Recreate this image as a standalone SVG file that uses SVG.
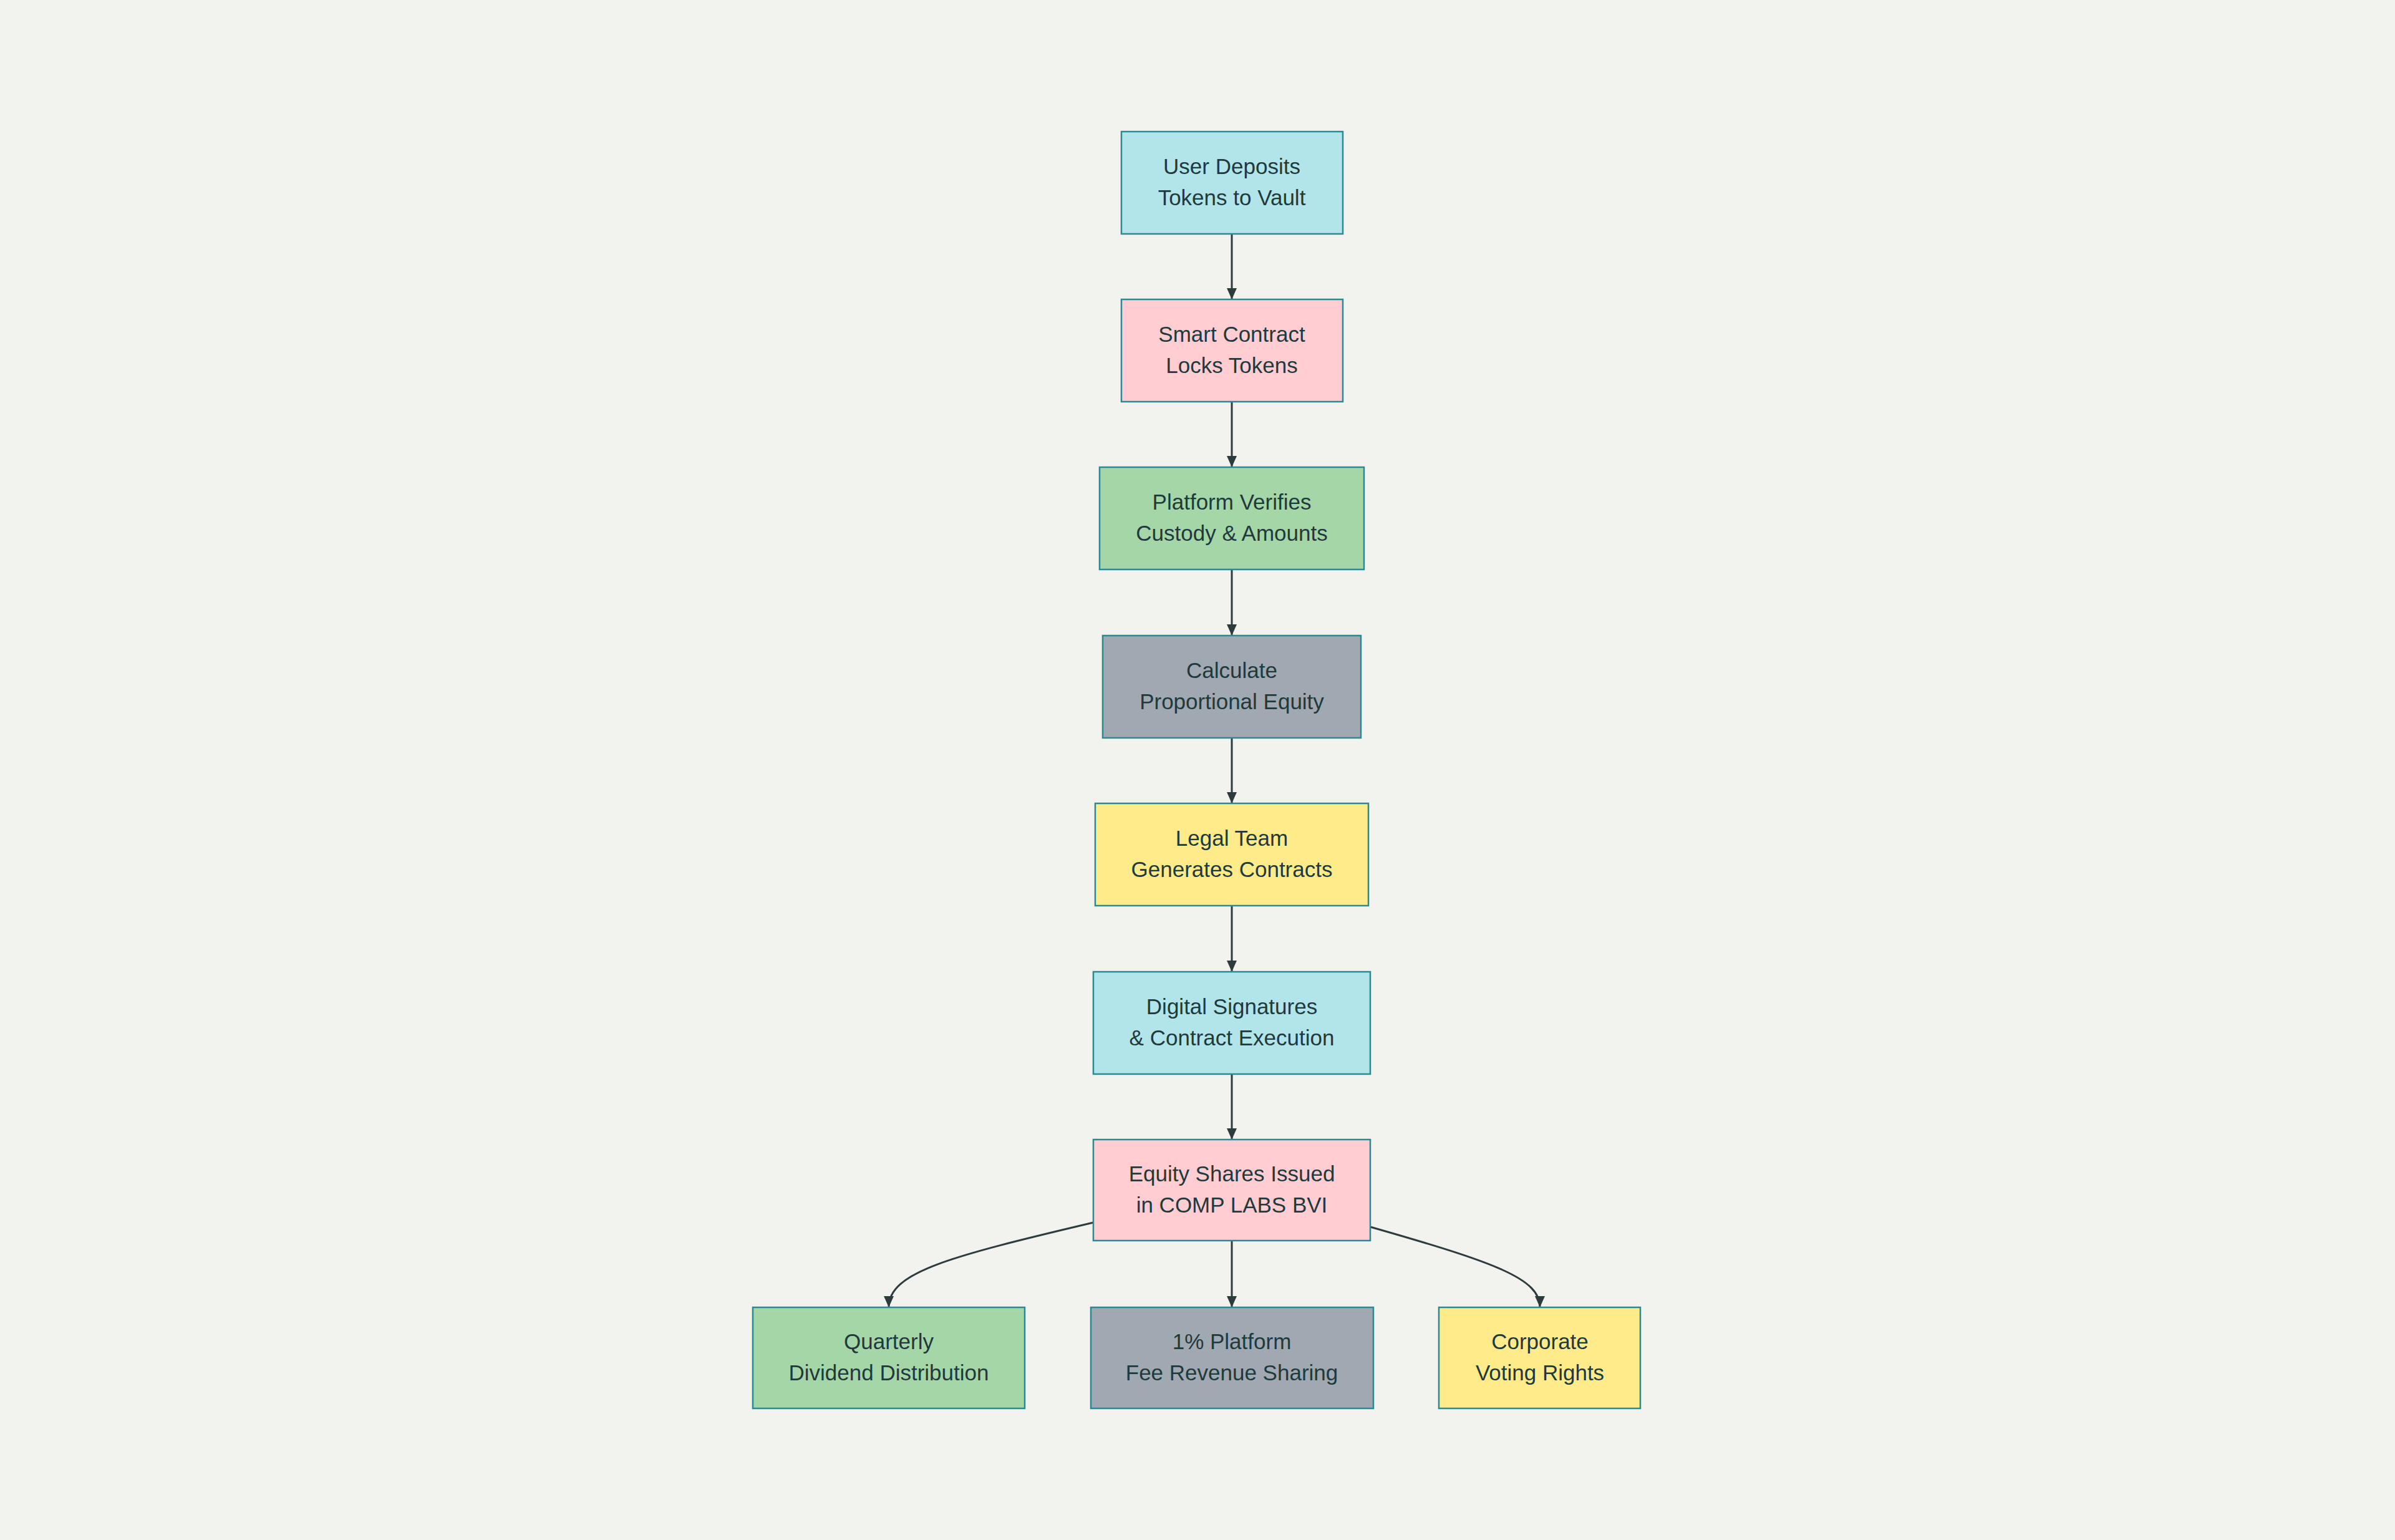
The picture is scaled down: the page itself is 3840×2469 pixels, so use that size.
<svg xmlns="http://www.w3.org/2000/svg" width="3840" height="2469" viewBox="0 0 3840 2469">
<style>
.n{stroke:#2a8a93;stroke-width:2.5}
.t{font-family:"Liberation Sans",Arial,sans-serif;font-size:35px;fill:#1f3a3d;text-anchor:middle}
.e{fill:none;stroke:#2d3b3d;stroke-width:3}
</style>
<defs><marker id="a" markerWidth="20" markerHeight="20" refX="18" refY="8" orient="auto" markerUnits="userSpaceOnUse"><path d="M0,0 L18,8 L0,16 z" fill="#2d3b3d"/></marker></defs>
<rect width="3840" height="2469" fill="#f2f3ee"/>
<g id="connectors">
<path class="e" marker-end="url(#a)" d="M1975,375 V480"/>
<path class="e" marker-end="url(#a)" d="M1975,644 V749"/>
<path class="e" marker-end="url(#a)" d="M1975,913 V1019"/>
<path class="e" marker-end="url(#a)" d="M1975,1183 V1288"/>
<path class="e" marker-end="url(#a)" d="M1975,1452 V1558"/>
<path class="e" marker-end="url(#a)" d="M1975,1722 V1827"/>
<path class="e" marker-end="url(#a)" d="M1975,1989 V2096"/>
<path class="e" marker-end="url(#a)" d="M1753,1960 C1520,2015 1425,2040 1425,2096"/>
<path class="e" marker-end="url(#a)" d="M2197,1967 C2400,2025 2469,2050 2469,2096"/>
</g>
<g id="n1"><rect class="n" x="1798" y="211" width="355" height="164" fill="#b2e5ea"/><text class="t" x="1975" y="279">User Deposits</text><text class="t" x="1975" y="329">Tokens to Vault</text></g>
<g id="n2"><rect class="n" x="1798" y="480" width="355" height="164" fill="#ffcdd2"/><text class="t" x="1975" y="548">Smart Contract</text><text class="t" x="1975" y="598">Locks Tokens</text></g>
<g id="n3"><rect class="n" x="1763" y="749" width="424" height="164" fill="#a5d6a7"/><text class="t" x="1975" y="817">Platform Verifies</text><text class="t" x="1975" y="867">Custody &amp; Amounts</text></g>
<g id="n4"><rect class="n" x="1768" y="1019" width="414" height="164" fill="#a0a8b1"/><text class="t" x="1975" y="1087">Calculate</text><text class="t" x="1975" y="1137">Proportional Equity</text></g>
<g id="n5"><rect class="n" x="1756" y="1288" width="438" height="164" fill="#ffeb8a"/><text class="t" x="1975" y="1356">Legal Team</text><text class="t" x="1975" y="1406">Generates Contracts</text></g>
<g id="n6"><rect class="n" x="1753" y="1558" width="444" height="164" fill="#b2e5ea"/><text class="t" x="1975" y="1626">Digital Signatures</text><text class="t" x="1975" y="1676">&amp; Contract Execution</text></g>
<g id="n7"><rect class="n" x="1753" y="1827" width="444" height="162" fill="#ffcdd2"/><text class="t" x="1975" y="1894">Equity Shares Issued</text><text class="t" x="1975" y="1944">in COMP LABS BVI</text></g>
<g id="n8"><rect class="n" x="1207" y="2096" width="436" height="162" fill="#a5d6a7"/><text class="t" x="1425" y="2163">Quarterly</text><text class="t" x="1425" y="2213">Dividend Distribution</text></g>
<g id="n9"><rect class="n" x="1749" y="2096" width="453" height="162" fill="#a0a8b1"/><text class="t" x="1975" y="2163">1% Platform</text><text class="t" x="1975" y="2213">Fee Revenue Sharing</text></g>
<g id="n10"><rect class="n" x="2307" y="2096" width="323" height="162" fill="#ffeb8a"/><text class="t" x="2469" y="2163">Corporate</text><text class="t" x="2469" y="2213">Voting Rights</text></g>
</svg>
